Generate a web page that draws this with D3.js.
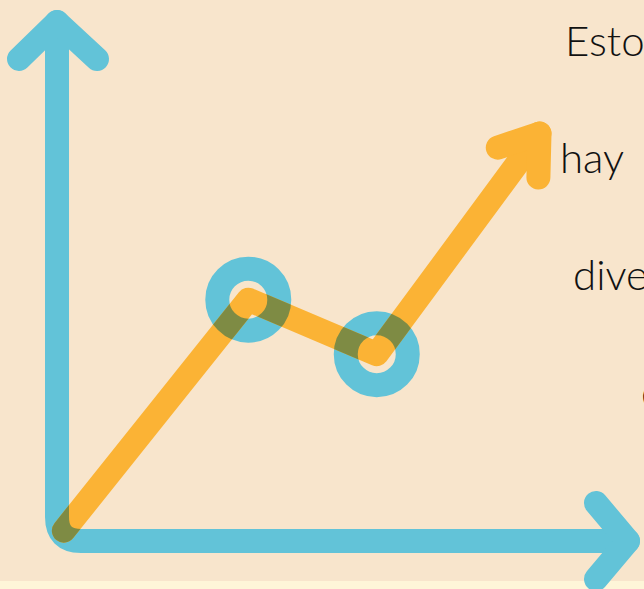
<!DOCTYPE html>
<html>
<head>
<meta charset="utf-8">
<script src="https://cdn.jsdelivr.net/npm/d3@7"></script>
<style>
html,body{margin:0;padding:0;background:#f8e5cc;overflow:hidden;}
svg{display:block;}
</style>
</head>
<body>
<svg id="chart" width="644" height="589"></svg>
<script>
// Data (abstract units)
const seriesX = [0.12, 3.35, 5.6, 8.45];
const seriesY = [0.2, 4.65, 3.6, 7.85];
const markerIdx = [1, 2];
const words = ["Esto", "hay", "dive", "de"];
const wordX = [565, 560, 573, 641];

const W = 644, H = 589;
const svg = d3.select("#chart");
const BLUE = "#62c3d8", ORANGE = "#fbb335", OLIVE = "#7e8b44";
const SW = 24;

const x = d3.scaleLinear().domain([0, 10]).range([57, 628]);
const y = d3.scaleLinear().domain([0, 10]).range([541, 22]);

// background
svg.append("rect").attr("width", W).attr("height", H).attr("fill", "#f8e5cc");
svg.append("rect").attr("y", 581).attr("width", W).attr("height", H - 581).attr("fill", "#fef5d8");

const x0 = x(0), y0 = y(0), xTop = y(10), xEnd = x(10);
const rC = 24;
const axisPath = `M${x0},${xTop} L${x0},${y0 - rC} Q${x0},${y0} ${x0 + rC},${y0} L${xEnd},${y0}`;
const vHead = `M${x0 - 38},${xTop + 37} L${x0},${xTop} L${x0 + 40},${xTop + 37}`;
const hHead = `M${xEnd - 32},${y0 - 38} L${xEnd},${y0} L${xEnd - 32},${y0 + 38}`;

const pts = seriesX.map((d, i) => [x(d), y(seriesY[i])]);
const line = d3.line();
const n = pts.length;
const dx = pts[n-1][0] - pts[n-2][0], dy = pts[n-1][1] - pts[n-2][1];
const L = Math.hypot(dx, dy);
const bx = -dx / L, by = -dy / L;
const ang = 35 * Math.PI / 180, aLen = 44;
function rot(vx, vy, a) { return [vx * Math.cos(a) - vy * Math.sin(a), vx * Math.sin(a) + vy * Math.cos(a)]; }
const a1 = rot(bx, by, ang), a2 = rot(bx, by, -ang);
const tip = pts[n-1];
const oHead = `M${tip[0] + a1[0]*aLen},${tip[1] + a1[1]*aLen} L${tip[0]},${tip[1]} L${tip[0] + a2[0]*aLen},${tip[1] + a2[1]*aLen}`;

function blueShapes(g, color) {
  [axisPath, vHead, hHead].forEach(p => g.append("path").attr("d", p)
    .attr("fill", "none").attr("stroke", color).attr("stroke-width", SW)
    .attr("stroke-linecap", "round").attr("stroke-linejoin", "round"));
  markerIdx.forEach(i => g.append("circle").attr("cx", pts[i][0]).attr("cy", pts[i][1])
    .attr("r", 31).attr("fill", "none").attr("stroke", color).attr("stroke-width", SW));
}
function orangeShapes(g, color) {
  g.append("path").attr("d", line(pts)).attr("fill", "none").attr("stroke", color)
    .attr("stroke-width", SW).attr("stroke-linecap", "round").attr("stroke-linejoin", "round");
  g.append("path").attr("d", oHead).attr("fill", "none").attr("stroke", color)
    .attr("stroke-width", SW).attr("stroke-linecap", "round").attr("stroke-linejoin", "round");
}

const defs = svg.append("defs");
const mask = defs.append("mask").attr("id", "blueMask").attr("maskUnits", "userSpaceOnUse")
  .attr("x", 0).attr("y", 0).attr("width", W).attr("height", H);
mask.append("rect").attr("width", W).attr("height", H).attr("fill", "black");
blueShapes(mask, "white");

blueShapes(svg.append("g"), BLUE);
orangeShapes(svg.append("g"), ORANGE);
orangeShapes(svg.append("g").attr("mask", "url(#blueMask)"), OLIVE);

// text
const baseY = [56, 173, 290, 407];
svg.append("g").selectAll("text").data(words).join("text")
  .attr("x", (d, i) => wordX[i]).attr("y", (d, i) => baseY[i])
  .attr("font-family", "Lato, 'Open Sans', sans-serif").attr("font-weight", 300)
  .attr("font-size", 42).attr("fill", "#111")
  .text(d => d);
</script>
</body>
</html>
